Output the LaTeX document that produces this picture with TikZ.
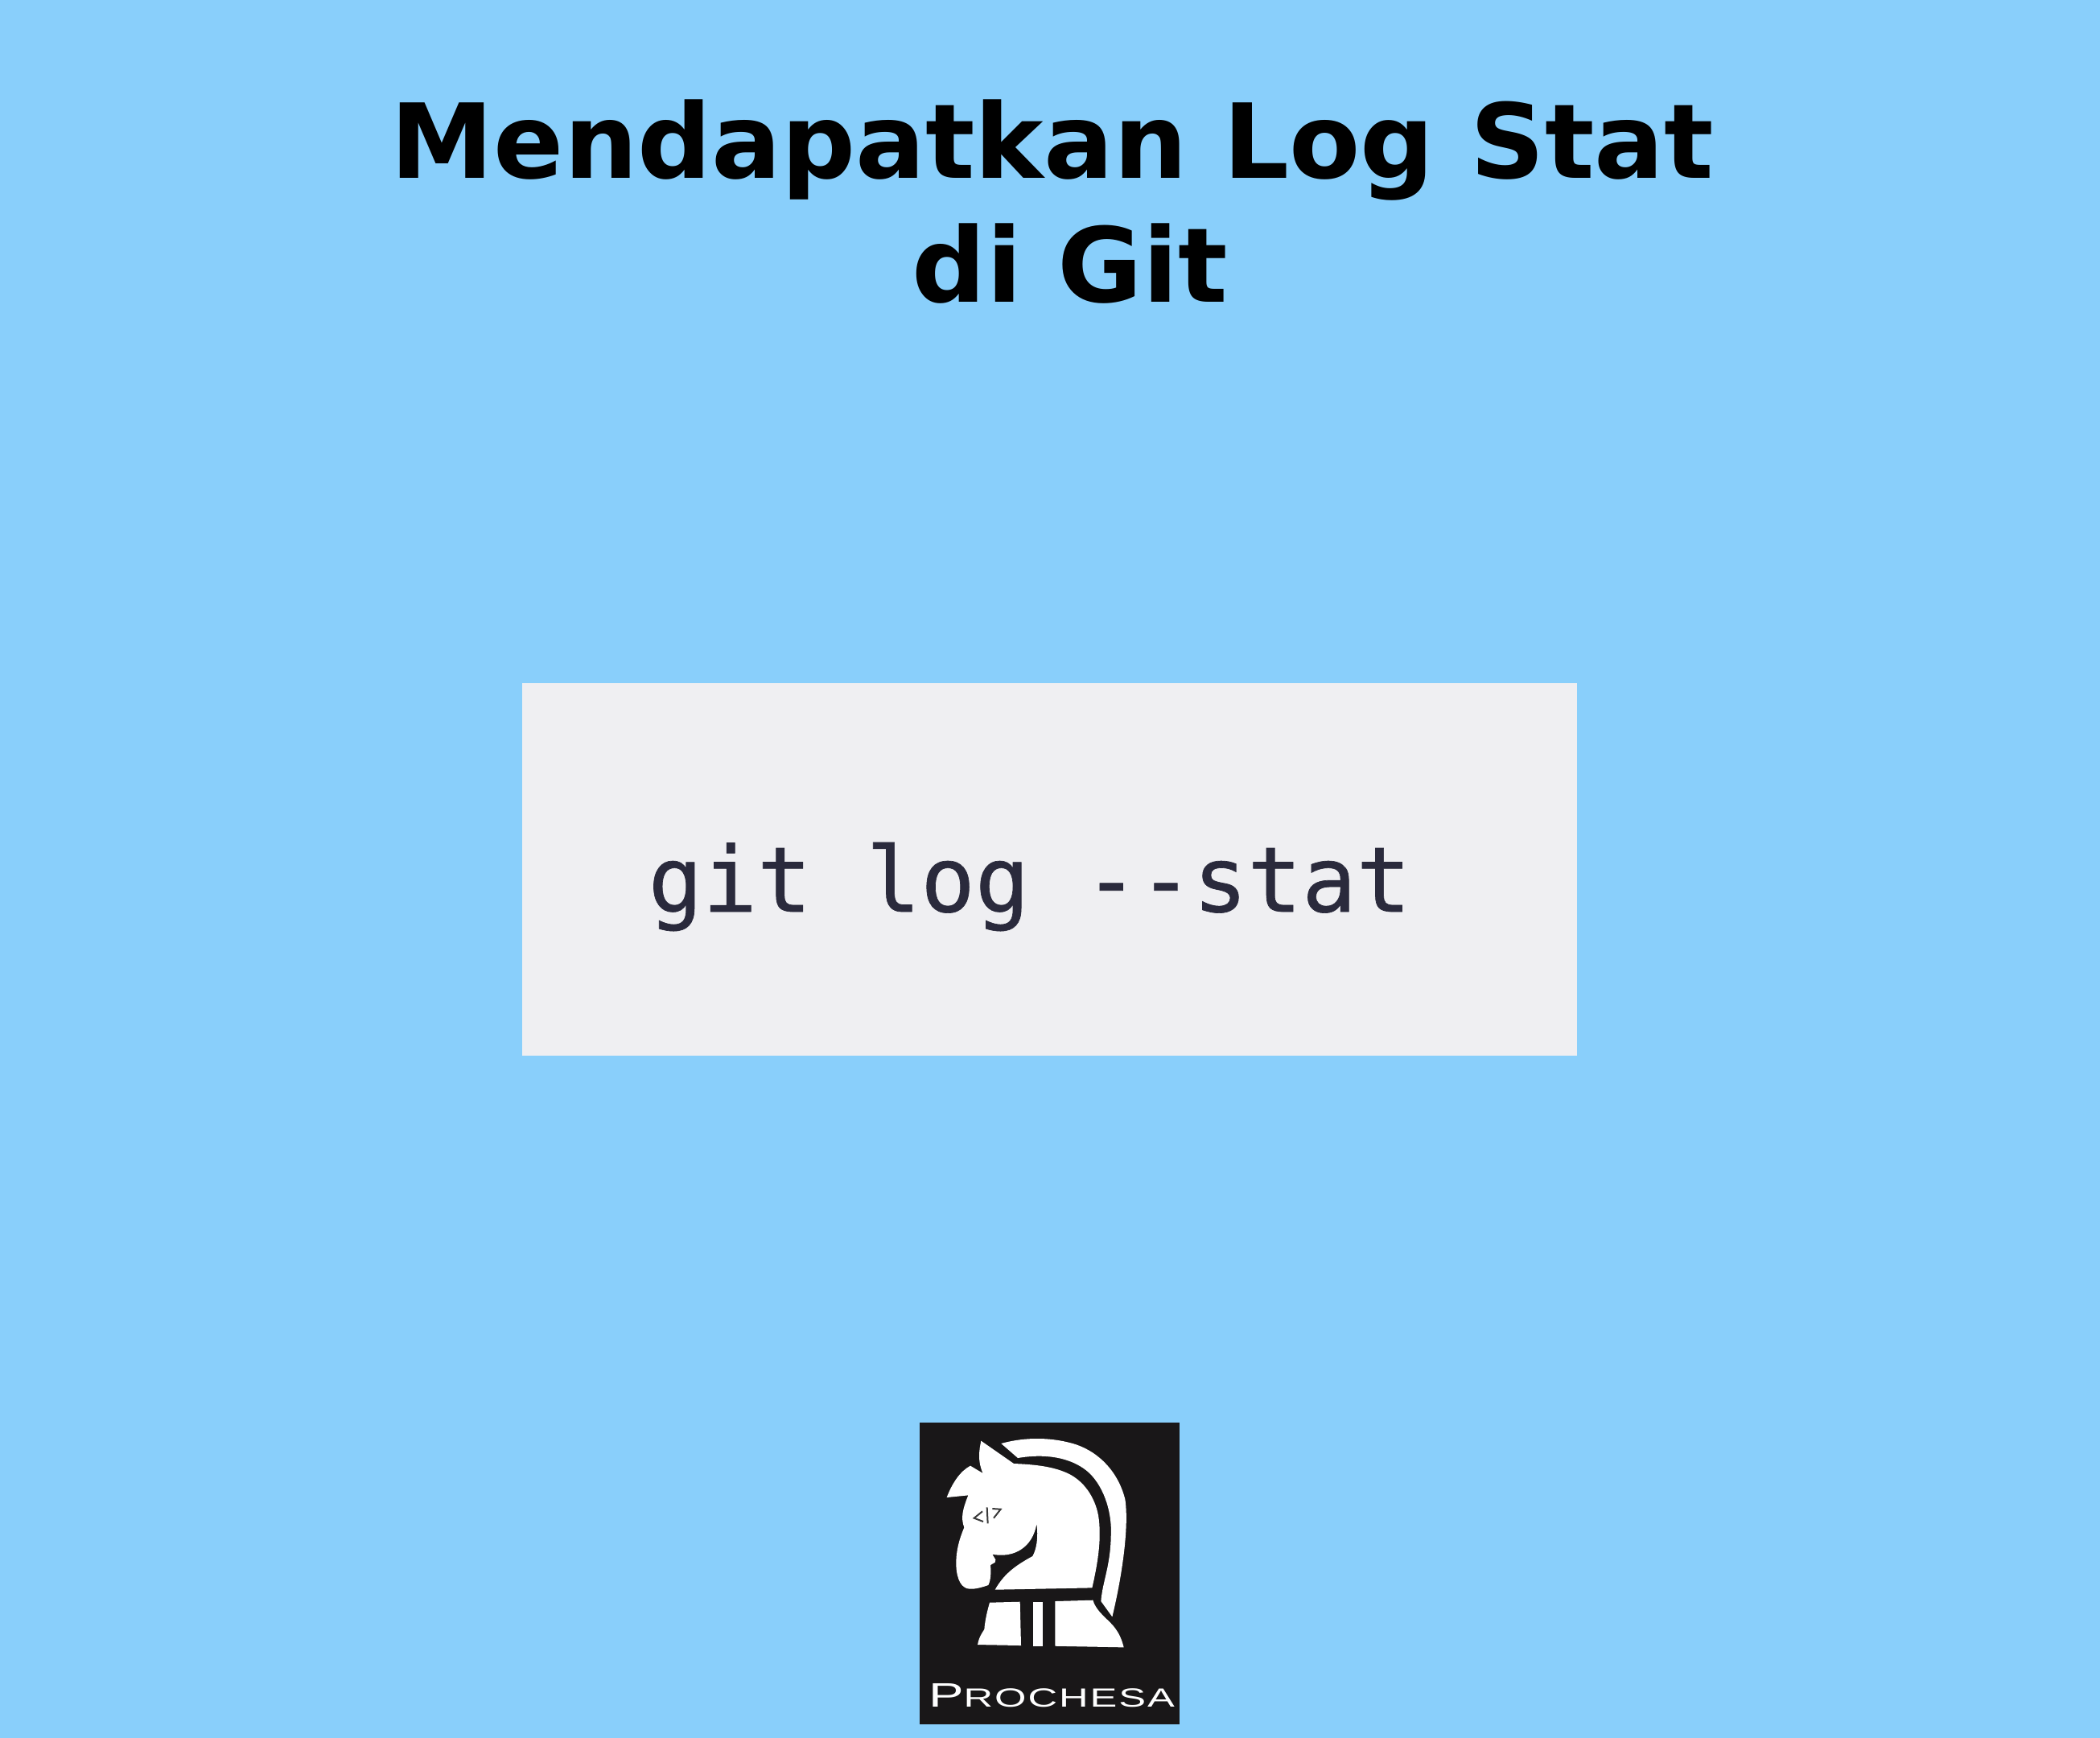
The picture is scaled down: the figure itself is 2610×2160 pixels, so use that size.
\documentclass[tikz,border=0pt]{standalone}
\usepackage{fontspec}
\setmainfont{DejaVu Sans}
\newfontfamily\codefont[FakeBold=0.6]{DejaVu Sans Mono}
\newfontfamily\brandfont[FakeStretch=1.55,LetterSpace=6]{Liberation Sans}
\definecolor{bgblue}{HTML}{89CFFB}
\definecolor{boxgray}{HTML}{EFEFF2}
\definecolor{codeink}{HTML}{2A2A3C}
\definecolor{logoblack}{HTML}{191718}
\definecolor{eyegray}{HTML}{3A3A3A}

\begin{document}
\begin{tikzpicture}[
      x=0.1mm, y=-0.1mm,
      ttl/.style={font=\fontsize{36.6}{44}\selectfont\bfseries, anchor=base, inner sep=0pt},
      code_lbl/.style={font=\fontsize{32}{38}\selectfont\codefont, text=codeink, anchor=base west, inner sep=0pt},
      brand_lbl/.style={text=white, anchor=base west, inner sep=0pt},
      eye_mark/.style={draw=eyegray, line width=0.2mm}
    ]
    % Sfondo
    \useasboundingbox (0,0) rectangle (2610,2159.6);
    \fill[bgblue] (-10,-10) rectangle (2620,2170);

    % Titolo
    \node[ttl] (title_a) at (1308,221) {Mendapatkan Log Stat};
    \node[ttl] (title_b) at (1330,375) {di Git};

    % Riquadro del comando
    \fill[boxgray] (649,849) rectangle (1960,1312);
    \node[code_lbl] (cmd) at (805,1133) {git log --stat};

    % Logo
    \fill[logoblack] (1143,1768) rectangle (1466,2143);
    \begin{scope}[shift={(1120,1750)}, x=0.0333333mm, y=-0.0333333mm]
      % Testa
      \fill[white] (298,122) -- (420,207)
        .. controls (500,210) and (570,218) .. (625,245)
        .. controls (680,272) and (722,330) .. (735,400)
        .. controls (748,480) and (735,570) .. (712,670) -- (350,677)
        .. controls (385,615) and (430,585) .. (490,552)
        .. controls (505,525) and (512,480) .. (505,432)
        .. controls (490,520) and (420,560) .. (340,545)
        -- (352,565) -- (350,575) -- (333,585)
        .. controls (335,610) and (335,640) .. (325,660)
        .. controls (300,668) and (280,675) .. (255,674)
        .. controls (225,672) and (207,640) .. (205,585)
        .. controls (204,530) and (218,485) .. (235,445)
        .. controls (222,410) and (228,380) .. (250,325) -- (170,333)
        .. controls (190,280) and (220,235) .. (258,215) -- (305,243)
        .. controls (285,200) and (290,160) .. (298,122) -- cycle;
      % Criniera
      \fill[white] (373,132) .. controls (470,105) and (570,110) .. (650,135)
        .. controls (740,165) and (810,240) .. (835,340)
        .. controls (850,440) and (825,620) .. (787,778) -- (745,720)
        .. controls (750,650) and (780,590) .. (782,480)
        .. controls (788,380) and (750,280) .. (690,232)
        .. controls (630,185) and (540,168) .. (435,186) -- cycle;
      % Base
      \fill[white] (330,725) -- (443,722) -- (447,885) -- (285,882)
        .. controls (290,855) and (300,840) .. (310,825)
        .. controls (313,790) and (320,760) .. (330,725) -- cycle;
      \fill[white] (492,722) -- (527,722) -- (527,887) -- (492,887) -- cycle;
      \fill[white] (574,720) -- (715,716) .. controls (725,750) and (750,770) .. (780,800)
        .. controls (810,830) and (822,860) .. (830,892) -- (574,887) -- cycle;
      % Occhio
      \draw[eye_mark] (303,385) -- (272,410) -- (306,423);
      \draw[eye_mark] (320,370) -- (323,430);
      \draw[eye_mark] (340,375) -- (371,377) -- (345,410);
      % Scritta
      \node[brand_lbl, font=\fontsize{12}{14}\selectfont\brandfont] (brand) at (100,1115)
        {P{\fontsize{9.3}{11}\selectfont ROCHESA}};
    \end{scope}
  \end{tikzpicture}
\end{document}
